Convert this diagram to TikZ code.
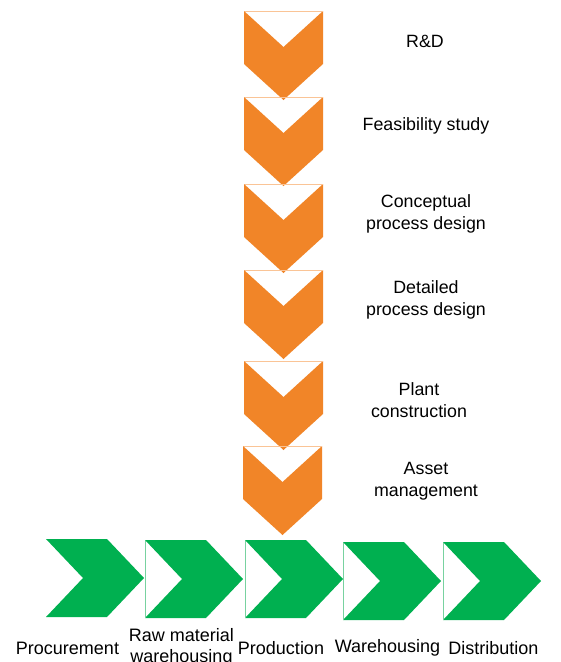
\documentclass[tikz,border=0pt]{standalone}
\usepackage{fontspec}
\setmainfont{Liberation Sans}
\definecolor{stageorange}{RGB}{241,133,40}
\definecolor{stageorangeedge}{RGB}{250,196,150}
\definecolor{chaingreen}{RGB}{0,176,80}
\definecolor{chaingreenedge}{RGB}{120,210,160}
\tikzset{
  x=1pt, y=-1pt,
  stagelabel/.style={align=center, inner sep=0pt, font=\fontsize{17.8}{21.8}\selectfont},
  chainlabel/.style={align=center, inner sep=0pt, font=\fontsize{18}{21.4}\selectfont},
  % downward chevron of the project life cycle
  pics/downchev/.style={code={
    \fill[stageorange] (0,0) -- (39.5,36) -- (79,0) -- (79,53) -- (39.5,89) -- (0,53) -- cycle;
    \draw[stageorangeedge, line width=0.5pt] (0.5,0) -- (78.5,0);
  }},
  % rightward chevron of the supply chain
  pics/rightchev/.style={code={
    \fill[chaingreen] (0,0) -- (61,0) -- (98,39) -- (61,78) -- (0,78) -- (37,39) -- cycle;
  }},
  pics/rightchevedge/.style={code={
    \fill[chaingreen] (0,0) -- (61,0) -- (98,39) -- (61,78) -- (0,78) -- (37,39) -- cycle;
    \draw[chaingreenedge, line width=0.5pt] (0,0.5) -- (0,77.5);
  }},
}
\begin{document}
\begin{tikzpicture}
\useasboundingbox[fill=white] (0,0) rectangle (561,662);
\begin{scope}
\clip (0,0) rectangle (561,662);

% project life cycle stages
\pic at (244,11)  {downchev};
\pic at (244,97)  {downchev};
\pic at (244,184) {downchev};
\pic at (244,270) {downchev};
\pic at (244,361) {downchev};
\pic at (243,446) {downchev};

\node[stagelabel] (rd)   at (425,41)    {R\&D};
\node[stagelabel] (feas) at (426,126)   {Feasibility study};
\node[stagelabel] (conc) at (426,213.5) {Conceptual\\process design};
\node[stagelabel] (det)  at (426,300)   {Detailed\\process design};
\node[stagelabel] (plant) at (419,400.5) {Plant\\construction};
\node[stagelabel] (asset) at (426,481.5) {Asset\\management};

% supply chain
\pic at (46,539)  {rightchev};
\pic at (145,540) {rightchevedge};
\pic at (245,540) {rightchevedge};
\pic at (343,542) {rightchevedge};
\pic at (443,542) {rightchevedge};

\node[chainlabel] (proc) at (67.5,648)  {Procurement};
\node[chainlabel] (raw)  at (181.5,647.5) {Raw material\\warehousing};
\node[chainlabel] (prod) at (281,648)   {Production};
\node[chainlabel] (ware) at (387.5,648) {Warehousing};
\node[chainlabel] (dist) at (493.5,648) {Distribution};
\end{scope}
\end{tikzpicture}
\end{document}
